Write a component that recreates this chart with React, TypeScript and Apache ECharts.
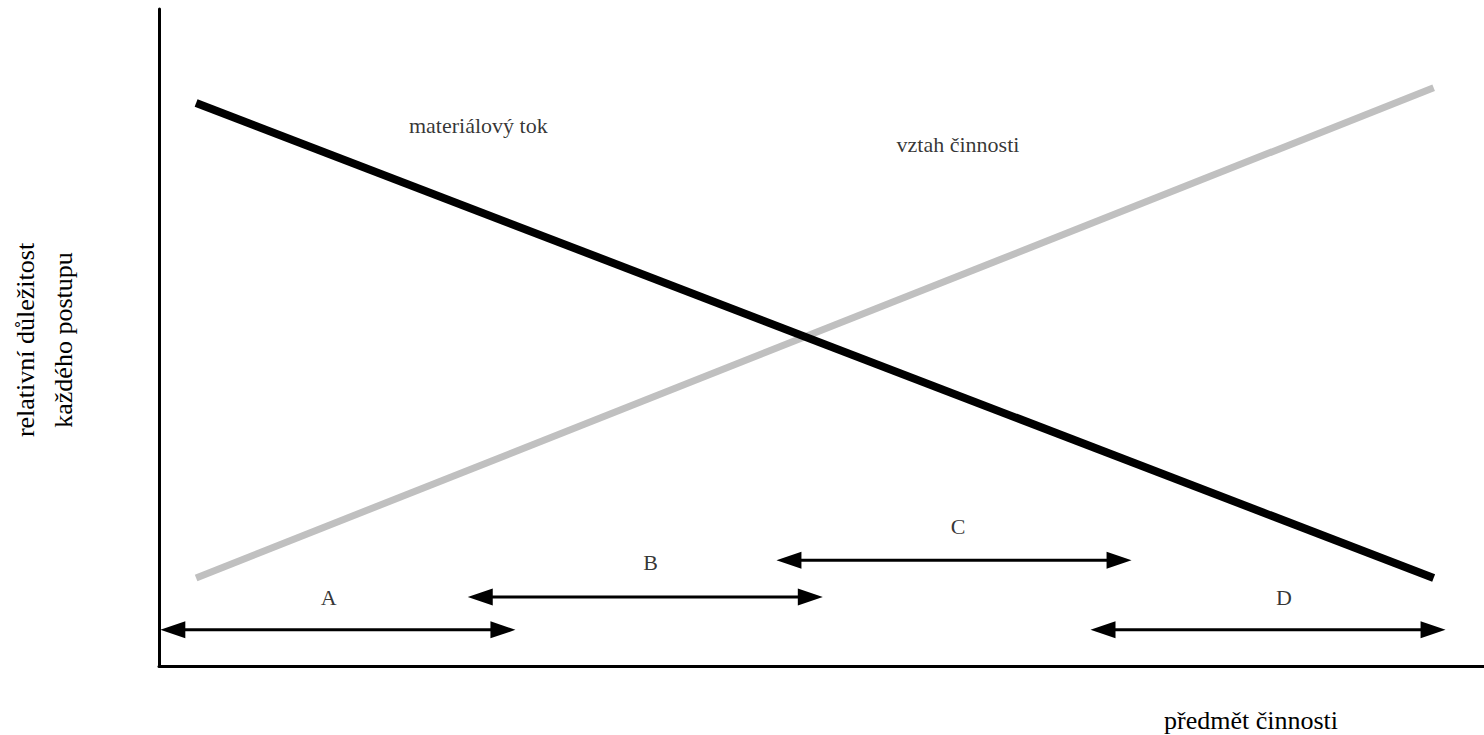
import React, { useEffect, useRef } from "react";
import * as echarts from "echarts";

// Abstract 0..100 scales on both axes
const xExtent = [0, 100];
const yExtent = [0, 100];

// Two trend lines (relative importance vs. activity subject)
const materialFlow = [
  [2.8, 85.7],
  [96.2, 13.4],
];
const activityRelation = [
  [2.8, 13.4],
  [96.2, 88.0],
];
const lineNames = ["materiálový tok", "vztah činnosti"];
const lineLabelPos = [
  [24.1, 82.3],
  [60.3, 79.3],
];

// Ranges A-D (double arrows)
const rangeNames = ["A", "B", "C", "D"];
const rangeStart = [0.1, 23.3, 46.6, 70.3];
const rangeEnd = [26.9, 50.1, 73.4, 97.1];
const rangeLevel = [5.5, 10.5, 16.1, 5.5];
const rangeLabelX = [12.8, 37.1, 60.3, 84.9];
const rangeLabelY = [10.4, 15.7, 21.2, 10.4];

const yAxisTitle = "relativní důležitost\nkaždého postupu";
const xAxisTitle = "předmět činnosti";

const FONT = "'Liberation Serif', 'Times New Roman', serif";

export default function App() {
  const ref = useRef<HTMLDivElement>(null);

  useEffect(() => {
    if (!ref.current) return;
    const chart = echarts.init(ref.current, undefined, { renderer: "svg" });

    const arrowData = rangeNames.map((n, i) => [rangeStart[i], rangeEnd[i], rangeLevel[i]]);
    const rangeLabelData = rangeNames.map((n, i) => ({ name: n, value: [rangeLabelX[i], rangeLabelY[i]] }));
    const lineLabelData = lineNames.map((n, i) => ({ name: n, value: lineLabelPos[i] }));

    chart.setOption({
      animation: false,
      backgroundColor: "#ffffff",
      grid: { left: 159, right: 0, top: 9, bottom: 69 },
      xAxis: {
        type: "value",
        min: xExtent[0],
        max: xExtent[1],
        axisLine: { show: true, lineStyle: { color: "#000", width: 3 } },
        axisTick: { show: false },
        axisLabel: { show: false },
        splitLine: { show: false },
      },
      yAxis: {
        type: "value",
        min: yExtent[0],
        max: yExtent[1],
        axisLine: { show: true, lineStyle: { color: "#000", width: 3 } },
        axisTick: { show: false },
        axisLabel: { show: false },
        splitLine: { show: false },
      },
      graphic: [
        {
          type: "text",
          x: 44,
          y: 340,
          rotation: Math.PI / 2,
          style: {
            text: yAxisTitle,
            font: `26px ${FONT}`,
            fill: "#000",
            align: "center",
            verticalAlign: "middle",
            lineHeight: 38,
          },
        },
        {
          type: "text",
          x: 1251,
          y: 720,
          style: {
            text: xAxisTitle,
            font: `26px ${FONT}`,
            fill: "#000",
            align: "center",
            verticalAlign: "middle",
          },
        },
      ],
      series: [
        {
          type: "line",
          data: materialFlow,
          symbol: "none",
          lineStyle: { color: "#000", width: 8, cap: "butt" },
          silent: true,
        },
        {
          type: "line",
          data: activityRelation,
          symbol: "none",
          lineStyle: { color: "#c0c0c0", width: 7, cap: "butt" },
          silent: true,
          z: 1,
        },
        {
          type: "custom",
          data: arrowData,
          silent: true,
          renderItem: (params: any, api: any) => {
            const x1 = api.value(0);
            const x2 = api.value(1);
            const y = api.value(2);
            const p1 = api.coord([x1, y]);
            const p2 = api.coord([x2, y]);
            const L = 25;
            const H = 8.5;
            return {
              type: "group",
              children: [
                {
                  type: "line",
                  shape: { x1: p1[0] + L - 2, y1: p1[1], x2: p2[0] - L + 2, y2: p2[1] },
                  style: { stroke: "#000", lineWidth: 3 },
                },
                {
                  type: "polygon",
                  shape: { points: [[p1[0], p1[1]], [p1[0] + L, p1[1] - H], [p1[0] + L, p1[1] + H]] },
                  style: { fill: "#000" },
                },
                {
                  type: "polygon",
                  shape: { points: [[p2[0], p2[1]], [p2[0] - L, p2[1] - H], [p2[0] - L, p2[1] + H]] },
                  style: { fill: "#000" },
                },
              ],
            };
          },
        },
        {
          type: "scatter",
          data: rangeLabelData,
          symbolSize: 0,
          silent: true,
          label: {
            show: true,
            position: "inside",
            formatter: "{b}",
            color: "#000",
            fontFamily: FONT,
            fontSize: 22,
          },
        },
        {
          type: "scatter",
          data: lineLabelData,
          symbolSize: 0,
          silent: true,
          label: {
            show: true,
            position: "inside",
            formatter: "{b}",
            color: "#000",
            fontFamily: FONT,
            fontSize: 22,
          },
        },
      ],
    });

    return () => chart.dispose();
  }, []);

  return (
    <div
      ref={ref}
      style={{ position: "fixed", left: 0, top: 0, width: 1484, height: 735, background: "#fff" }}
    />
  );
}
